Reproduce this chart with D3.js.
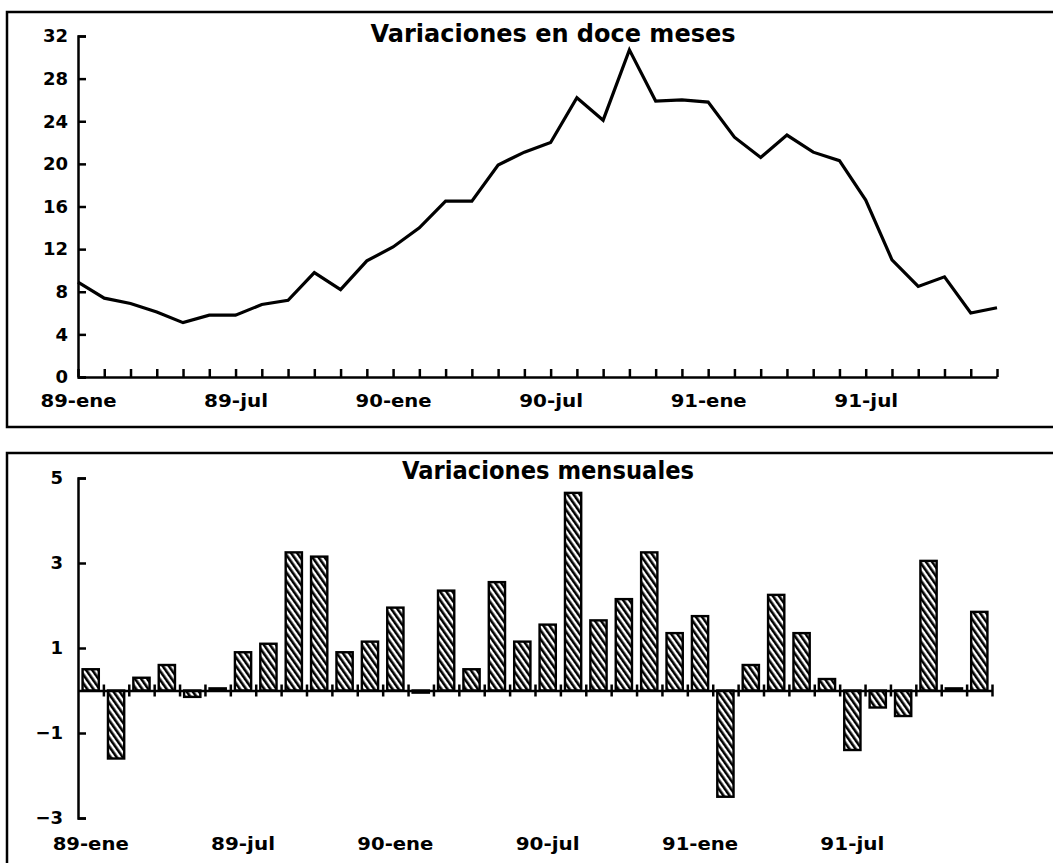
<!DOCTYPE html>
<html>
<head>
<meta charset="utf-8">
<script src="https://cdn.jsdelivr.net/npm/d3@7"></script>
<style>
  html, body { margin: 0; padding: 0; background: #fff; }
  svg { display: block; }
  text { font-family: "DejaVu Sans", sans-serif; font-weight: bold; fill: #000; }
</style>
</head>
<body>
<svg id="chart" width="1053" height="863"></svg>
<script>
// ---- Data ----
const months = [
  "89-ene","89-feb","89-mar","89-abr","89-may","89-jun","89-jul","89-ago","89-sep","89-oct","89-nov","89-dic",
  "90-ene","90-feb","90-mar","90-abr","90-may","90-jun","90-jul","90-ago","90-sep","90-oct","90-nov","90-dic",
  "91-ene","91-feb","91-mar","91-abr","91-may","91-jun","91-jul","91-ago","91-sep","91-oct","91-nov","91-dic"
];
const labelMonths = ["89-ene","89-jul","90-ene","90-jul","91-ene","91-jul"];
const twelveMonth = [8.9, 7.4, 6.9, 6.1, 5.1, 5.8, 5.8, 6.8, 7.2, 9.8, 8.2, 10.9,
                     12.2, 14.0, 16.5, 16.5, 19.9, 21.1, 22.0, 26.2, 24.1, 30.7, 25.9, 26.0,
                     25.8, 22.5, 20.6, 22.7, 21.1, 20.3, 16.6, 11.0, 8.5, 9.4, 6.0, 6.5];
const monthly = [0.5, -1.6, 0.3, 0.6, -0.15, 0.05, 0.9, 1.1, 3.25, 3.15, 0.9, 1.15,
                 1.95, -0.05, 2.35, 0.5, 2.55, 1.15, 1.55, 4.65, 1.65, 2.15, 3.25, 1.35,
                 1.75, -2.5, 0.6, 2.25, 1.35, 0.27, -1.4, -0.4, -0.6, 3.05, 0.05, 1.85];
const topTicks = [0, 4, 8, 12, 16, 20, 24, 28, 32];
const bottomTicks = [-3, -1, 1, 3, 5];
const topTitle = "Variaciones en doce meses";
const bottomTitle = "Variaciones mensuales";

const svg = d3.select("#chart");
const labW = d => d.endsWith("ene") ? 76 : 64;

// hatch pattern
const defs = svg.append("defs");
const pat = defs.append("pattern")
  .attr("id", "hatch")
  .attr("patternUnits", "userSpaceOnUse")
  .attr("width", 5).attr("height", 10)
  .attr("patternTransform", "rotate(-35)");
pat.append("rect").attr("width", 5).attr("height", 10).attr("fill", "#fff");
pat.append("line").attr("x1", 1.3).attr("y1", 0).attr("x2", 1.3).attr("y2", 10)
  .attr("stroke", "#000").attr("stroke-width", 2.6);

// frames
svg.append("rect").attr("x", 7).attr("y", 12).attr("width", 1060).attr("height", 415)
  .attr("fill", "none").attr("stroke", "#000").attr("stroke-width", 2.5);
svg.append("rect").attr("x", 7).attr("y", 453).attr("width", 1060).attr("height", 430)
  .attr("fill", "none").attr("stroke", "#000").attr("stroke-width", 2.5);

// ---- Top panel ----
const xT = d3.scalePoint().domain(months).range([78, 997]);
const yT = d3.scaleLinear().domain([0, 32]).range([377, 36]);

const gTop = svg.append("g");
const yAxisT = gTop.append("g").attr("transform", "translate(78,0)")
  .call(d3.axisLeft(yT).tickValues(topTicks).tickSizeInner(-8).tickSizeOuter(-8).tickPadding(10));
const xAxisT = gTop.append("g").attr("transform", `translate(0,${yT(0)})`)
  .call(d3.axisBottom(xT).tickValues(months).tickSizeInner(-8).tickSizeOuter(0).tickPadding(18)
    .tickFormat(d => labelMonths.includes(d) ? d : ""));

[yAxisT, xAxisT].forEach(g => {
  g.selectAll("path.domain").attr("stroke", "#000").attr("stroke-width", 2.5);
  g.selectAll(".tick line").attr("stroke", "#000").attr("stroke-width", 2.5);
  g.selectAll("text").attr("font-size", 18).attr("font-family", "DejaVu Sans").attr("font-weight", "bold").attr("fill", "#000");
});
xAxisT.selectAll("text").attr("font-size", 17)
  .each(function(d) { if (labelMonths.includes(d)) d3.select(this).attr("textLength", labW(d)).attr("lengthAdjust", "spacingAndGlyphs"); });

gTop.append("path")
  .datum(twelveMonth)
  .attr("fill", "none").attr("stroke", "#000").attr("stroke-width", 3.2)
  .attr("stroke-linejoin", "miter")
  .attr("d", d3.line().x((d, i) => xT(months[i])).y(d => yT(d)));

gTop.append("text").attr("x", 553).attr("y", 42).attr("text-anchor", "middle")
  .attr("font-size", 24).attr("textLength", 365).attr("lengthAdjust", "spacingAndGlyphs")
  .text(topTitle);

// ---- Bottom panel ----
const xB = d3.scaleBand().domain(months).range([78, 992]).paddingInner(0.36).paddingOuter(0.18);
const xBL = d3.scaleLinear().domain([0, months.length]).range([78, 992]);
const yB = d3.scaleLinear().domain([-3, 5]).range([818, 478]);

const gBot = svg.append("g");

gBot.selectAll("rect.bar").data(monthly).join("rect")
  .attr("class", "bar")
  .attr("x", (d, i) => xB(months[i]))
  .attr("width", xB.bandwidth())
  .attr("y", d => yB(Math.max(0, d)))
  .attr("height", d => Math.abs(yB(d) - yB(0)))
  .attr("fill", "url(#hatch)")
  .attr("stroke", "#000").attr("stroke-width", 2.4);

const yAxisB = gBot.append("g").attr("transform", "translate(78,0)")
  .call(d3.axisLeft(yB).tickValues(bottomTicks).tickSizeInner(-8).tickSizeOuter(-8).tickPadding(15)
    .tickFormat(d3.format("d")));
yAxisB.selectAll("path.domain").attr("stroke", "#000").attr("stroke-width", 2.5);
yAxisB.selectAll(".tick line").attr("stroke", "#000").attr("stroke-width", 2.5);
yAxisB.selectAll("text").attr("font-size", 18).attr("font-family", "DejaVu Sans").attr("font-weight", "bold").attr("fill", "#000");

const zeroAxis = gBot.append("g").attr("transform", `translate(0,${yB(0)})`)
  .call(d3.axisBottom(xBL).tickValues(d3.range(1, months.length + 1)).tickSizeInner(7).tickSizeOuter(0).tickFormat(""));
zeroAxis.selectAll("path.domain").attr("stroke", "#000").attr("stroke-width", 2.5);
zeroAxis.selectAll(".tick line").attr("y1", -6).attr("y2", 6).attr("stroke", "#000").attr("stroke-width", 2.5);

gBot.selectAll("text.xlab").data(labelMonths).join("text")
  .attr("class", "xlab")
  .attr("x", d => xB(d) + xB.bandwidth() / 2)
  .attr("y", 850)
  .attr("text-anchor", "middle")
  .attr("font-size", 17)
  .attr("textLength", d => labW(d)).attr("lengthAdjust", "spacingAndGlyphs")
  .text(d => d);

gBot.append("text").attr("x", 548).attr("y", 479).attr("text-anchor", "middle")
  .attr("font-size", 24).attr("textLength", 292).attr("lengthAdjust", "spacingAndGlyphs")
  .text(bottomTitle);
</script>
</body>
</html>
